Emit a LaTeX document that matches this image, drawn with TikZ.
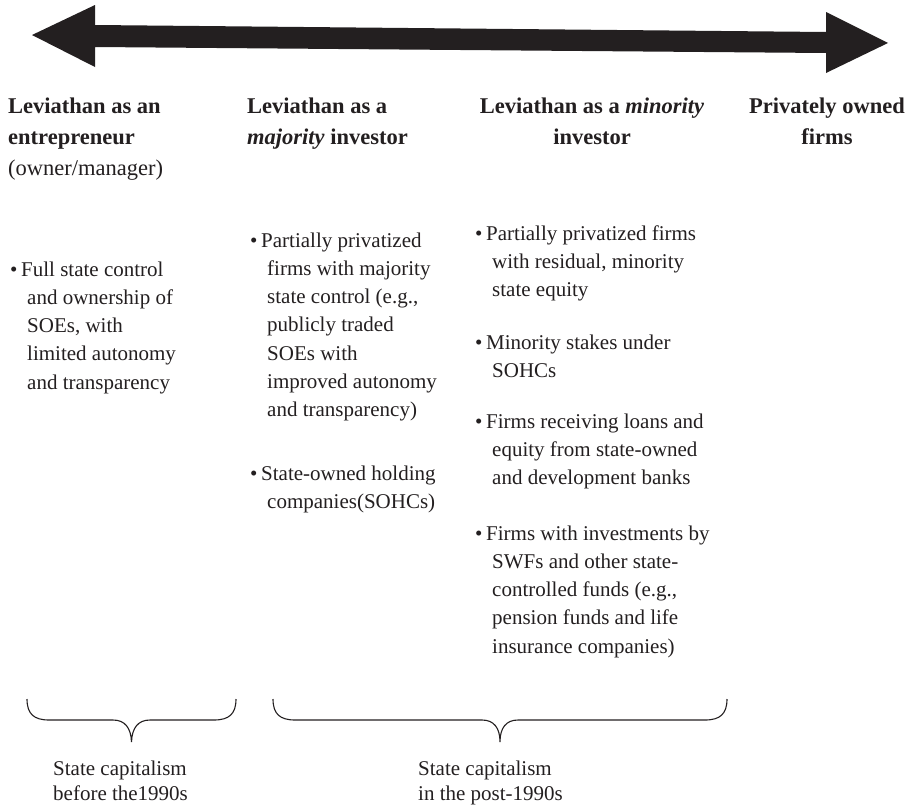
\documentclass[tikz,border=0pt]{standalone}
\usepackage{fontspec}
\setmainfont{Liberation Serif}
\usepackage{xcolor}
\usepackage{tikz}

\definecolor{ink}{HTML}{231F20}
\newcommand{\bul}{\makebox[11pt][l]{\textbullet}}
\newcommand{\ind}{\hspace*{17pt}}

\begin{document}
\begin{tikzpicture}[x=1pt,y=1pt,yscale=-1,xscale=1,
  hdr/.style={anchor=base west,inner sep=0pt,align=left,text=ink,font=\fontsize{22.5}{31}\selectfont},
  hdrc/.style={hdr,anchor=base,align=center},
  item/.style={anchor=base west,inner sep=0pt,align=left,text=ink,font=\fontsize{21}{28.3}\selectfont},
  lbl/.style={anchor=base west,inner sep=0pt,align=left,text=ink,font=\fontsize{21}{25}\selectfont},
  brace/.style={draw=ink,line width=1.1pt}]
\useasboundingbox (0,0) rectangle (908,806);

\fill[ink] (32,35) -- (95,5) -- (95,25) -- (826,32) -- (826,12) -- (888,43) -- (826,73) -- (826,53) -- (95,47) -- (95,67) -- cycle ;

% base anchor = baseline of the last line
\node[hdr] (entre) at (8,175) {\textbf{Leviathan as an}\\\textbf{entrepreneur}\\(owner/manager)};
\node[hdr] (major) at (247,144) {\textbf{Leviathan as a}\\\textbf{\textit{majority} investor}};
\node[hdrc] (minor) at (592,144) {\textbf{Leviathan as a \textit{minority}}\\\textbf{investor}};
\node[hdrc] (priv) at (827,144) {\textbf{Privately owned}\\\textbf{firms}};

\node[item] (fullctl) at (10,389.2) {\bul Full state control\\\ind and ownership of\\\ind SOEs, with\\\ind limited autonomy\\\ind and transparency};

\node[item] (partmaj) at (250,416.8) {\bul Partially privatized\\\ind firms with majority\\\ind state control (e.g.,\\\ind publicly traded\\\ind SOEs with\\\ind improved autonomy\\\ind and transparency)};
\node[item] (sohc) at (250,508.3) {\bul State-owned holding\\\ind companies(SOHCs)};

\node[item] (partmin) at (475,296.6) {\bul Partially privatized firms\\\ind with residual, minority\\\ind state equity};
\node[item] (stakes) at (475,377.3) {\bul Minority stakes under\\\ind SOHCs};
\node[item] (loans) at (475,484.6) {\bul Firms receiving loans and\\\ind equity from state-owned\\\ind and development banks};
\node[item] (swf) at (475,653.2) {\bul Firms with investments by\\\ind SWFs and other state-\\\ind controlled funds (e.g.,\\\ind pension funds and life\\\ind insurance companies)};

% braces
\draw[brace] (27,699) .. controls (27,714) and (34,720) .. (49,720) -- (113,720) .. controls (125,720) and (131,728) .. (131.5,742) .. controls (132,728) and (138,720) .. (150,720) -- (214,720) .. controls (229,720) and (236,714) .. (236,699) ;
\draw[brace] (273,699) .. controls (273,714) and (280,720) .. (295,720) -- (482,720) .. controls (494,720) and (500,728) .. (500,742) .. controls (500,728) and (506,720) .. (518,720) -- (705,720) .. controls (720,720) and (727,714) .. (727,699) ;

\node[lbl] (before) at (53,800) {State capitalism\\before the1990s};
\node[lbl] (post) at (418,800) {State capitalism\\in the post-1990s};
\end{tikzpicture}
\end{document}
